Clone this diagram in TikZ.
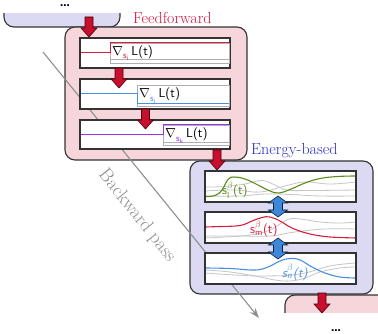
\documentclass[tikz,border=0pt]{standalone}
\usepackage{amsmath}
\usepackage{unicode-math}
\setmathfont{Latin Modern Math}
\usetikzlibrary{arrows.meta}
\definecolor{ffred}{HTML}{D4143C}
\definecolor{ebblue}{HTML}{2B2BC8}
\definecolor{ffpink}{HTML}{F6D6DB}
\definecolor{eblav}{HTML}{DCDAF3}
\definecolor{tracered}{HTML}{D81E3C}
\definecolor{traceblue}{HTML}{4A90E2}
\definecolor{tracepurple}{HTML}{9B30F0}
\definecolor{tracegreen}{HTML}{5A8C1A}
\definecolor{arrred}{HTML}{C80F2E}
\definecolor{arrdark}{HTML}{4A000C}
\definecolor{arrblue}{HTML}{3D87D8}
\definecolor{arrbluedark}{HTML}{0A1F40}
\definecolor{edgegray}{HTML}{333333}
\definecolor{bpgray}{HTML}{8E8E8E}
\definecolor{lblgray}{HTML}{AFAFAF}
\definecolor{curvegray}{HTML}{C6C6C6}
\begin{document}
\begin{tikzpicture}[x=1pt,y=-1pt,
  outerbox/.style={draw=edgegray, line width=1.1pt, rounded corners=10pt},
  ffouter/.style={outerbox, fill=ffpink},
  ebouter/.style={outerbox, fill=eblav},
  boxnode/.style={inner sep=0pt, outer sep=0pt, anchor=north west},
  layerbox/.style={boxnode, draw=edgegray, line width=1.6pt, fill=white},
  labelbox/.style={draw=lblgray, line width=0.8pt, fill=white},
  trace/.style={line width=1pt},
  graycurve/.style={draw=curvegray, line width=0.8pt},
  ecurve/.style={line width=1.1pt},
  lbltext/.style={anchor=base west, inner sep=0pt, font=\sffamily\fontsize{13}{15}\selectfont},
  titletext/.style={anchor=base west, inner sep=0pt, font=\fontsize{16}{18}\selectfont},
  dotstext/.style={anchor=base, inner sep=0pt, font=\sffamily\bfseries\fontsize{14}{14}\selectfont},
  bpline/.style={draw=bpgray, line width=1.1pt, -{Stealth[length=10pt,width=7pt]}},
  pics/redarr/.style={code={
    \draw[fill=arrred, draw=arrdark, line width=0.6pt]
      (-4,0) -- (4,0) -- (4,11) -- (8,11) -- (0,20) -- (-8,11) -- (-4,11) -- cycle;}},
  pics/bluedbl/.style={code={
    \draw[fill=arrblue, draw=arrbluedark, line width=0.6pt]
      (0,0) -- (9.5,7) -- (4.5,7) -- (4.5,14) -- (9.5,14) -- (0,21)
      -- (-9.5,14) -- (-4.5,14) -- (-4.5,7) -- (-9.5,7) -- cycle;}}
]
\useasboundingbox (0,0) rectangle (378,334);

% previous module (clipped)
\begin{scope}
  \clip (0,14) rectangle (378,100);
  \draw[ebouter] (4,-10) rectangle (120,27);
\end{scope}
\node[dotstext] (dotstop) at (65,7) {\ldots};

% feedforward module
\node[boxnode, ffouter, minimum width=182pt, minimum height=133pt] (ff) at (65,27) {};

% next module (clipped)
\begin{scope}
  \clip (0,250) rectangle (378,312);
  \draw[ffouter] (285,295) rectangle (400,360);
\end{scope}
\node[dotstext] (dotsbot) at (336,331.5) {\ldots};

% energy-based module
\node[boxnode, ebouter, minimum width=183pt, minimum height=133pt] (eb) at (190,161) {};

% backward pass
\coordinate (bpstart) at (43,52);
\coordinate (bpend) at (259,318);
\draw[bpline] (bpstart) -- (bpend);

% feedforward layers
\node[layerbox, minimum width=150pt, minimum height=30pt] (ff1) at (80,38) {};
\node[layerbox, minimum width=150pt, minimum height=30pt] (ff2) at (80,79) {};
\node[layerbox, minimum width=150pt, minimum height=29pt] (ff3) at (80,120) {};

\draw[labelbox] (110,43) rectangle (229.2,63);
\draw[graycurve, draw=lblgray] (110,59.5) -- (229.2,59.5);
\draw[trace, tracered] (80.8,53) -| (110,43) -- (229.2,43);
\node[lbltext] (g1) at (112,55.5) {$\nabla_{\textcolor{tracered}{\textsf{s}_{\textsf{i}}}}$\,L(t)};

\draw[labelbox] (137,85) rectangle (229.2,106);
\draw[trace, traceblue] (80.8,94) -| (137,104) -- (229.2,104);
\node[lbltext] (g2) at (139,98) {$\nabla_{\textcolor{traceblue}{\textsf{s}_{\textsf{j}}}}$\,L(t)};

\draw[labelbox] (163,125) rectangle (229.2,145);
\draw[graycurve, draw=lblgray] (163,142.5) -- (229.2,142.5);
\draw[trace, tracepurple] (80.8,135) -| (163,125) -- (229.2,125);
\node[lbltext] (g3) at (165,138) {$\nabla_{\textcolor{tracepurple}{\textsf{s}_{\textsf{k}}}}$\,L(t)};

% energy-based layers
\node[layerbox, minimum width=151pt, minimum height=31pt] (e1) at (205,171) {};
\node[layerbox, minimum width=151pt, minimum height=31pt] (e2) at (205,212) {};
\node[layerbox, minimum width=151pt, minimum height=31pt] (e3) at (205,253) {};

\begin{scope}
  \clip (206,172) rectangle (355,201);
  \draw[graycurve] plot[smooth, tension=0.7] coordinates {(205,187) (225,186.5) (245,184) (262,180.5) (275,185) (287,190) (310,190.5) (356,190)};
  \draw[graycurve] plot[smooth, tension=0.7] coordinates {(205,196) (240,196) (265,194) (290,194.5) (320,196) (356,196)};
  \draw[graycurve] plot[smooth, tension=0.7] coordinates {(205,191) (235,190) (260,192) (285,186) (305,182) (330,184) (356,182)};
  \draw[ecurve, tracegreen] plot[smooth, tension=0.7] coordinates {(205,196.5) (215,195.5) (222,190) (228,179.5) (234,177) (245,179) (258,185) (270,191) (279,193) (290,189.5) (305,183) (320,178.5) (338,176.5) (356,176)};
\end{scope}
\node[lbltext, text=tracegreen] (s1) at (222,195) {$\textsf{s}^{\beta}_{\textsf{l}}$(t)};

\begin{scope}
  \clip (206,213) rectangle (355,242);
  \draw[graycurve] plot[smooth, tension=0.7] coordinates {(205,238) (225,237) (250,235) (270,230) (288,219.5) (300,219) (320,222) (340,223) (356,222)};
  \draw[graycurve] plot[smooth, tension=0.7] coordinates {(205,236) (240,236) (270,236) (295,232) (325,229) (356,229)};
  \draw[ecurve, tracered] plot[smooth, tension=0.7] coordinates {(205,227) (220,226.5) (240,225.5) (252,221) (262,217.5) (270,217) (280,221) (292,228) (308,233.5) (325,236.5) (340,237.5) (356,238)};
\end{scope}
\node[lbltext, text=tracered] (s2) at (250,234) {$\textsf{s}^{\beta}_{\textsf{m}}$(t)};

\begin{scope}
  \clip (206,254) rectangle (355,283);
  \draw[graycurve] plot[smooth, tension=0.7] coordinates {(205,270) (230,272) (255,276) (275,280) (290,281) (305,278) (320,272) (340,268) (356,267)};
  \draw[graycurve] plot[smooth, tension=0.7] coordinates {(205,273) (235,275) (265,276) (300,274) (330,266) (356,263)};
  \draw[ecurve, traceblue] plot[smooth, tension=0.7] coordinates {(205,268) (230,268.5) (255,270) (268,267) (280,261) (290,258.5) (300,260) (312,267) (325,273) (340,277) (356,278)};
\end{scope}
\node[lbltext, text=traceblue, font=\sffamily\slshape\fontsize{13}{15}\selectfont] (s3) at (282,277) {$\textsf{\slshape s}^{\beta}_{\textsf{\slshape n}}$(t)};

% arrows
\pic at (89,17) {redarr};
\pic at (119,68) {redarr};
\pic at (145.5,109) {redarr};
\pic at (217,150) {redarr};
\pic at (322,293) {redarr};
\pic at (278,196) {bluedbl};
\pic at (278,238) {bluedbl};

% titles
\node[titletext, text=ffred] (fftitle) at (133,24) {Feedforward};
\node[titletext, text=ebblue] (ebtitle) at (251,155) {Energy-based};
\node[inner sep=0pt, rotate=-51.5, text=bpgray, font=\fontsize{19}{21}\selectfont] (bptext) at (137,216) {Backward pass};
\end{tikzpicture}
\end{document}
